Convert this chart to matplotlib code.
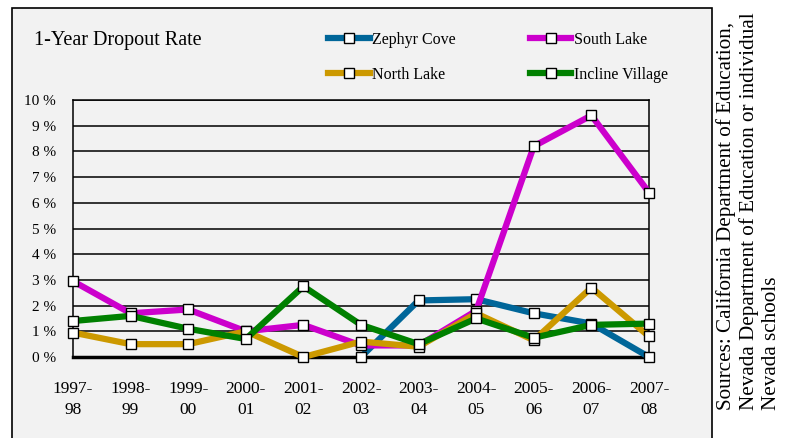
import matplotlib.pyplot as plt
from matplotlib.patches import Rectangle
import numpy as np

# Data
years = ["1997-\n98", "1998-\n99", "1999-\n00", "2000-\n01", "2001-\n02", "2002-\n03",
         "2003-\n04", "2004-\n05", "2005-\n06", "2006-\n07", "2007-\n08"]
zephyr_cove = [np.nan, np.nan, np.nan, np.nan, np.nan, 0.0, 2.2, 2.25, 1.7, 1.3, 0.0]
south_lake = [2.95, 1.7, 1.85, 1.0, 1.25, 0.45, 0.45, 1.8, 8.2, 9.4, 6.4]
north_lake = [0.95, 0.5, 0.5, 1.0, 0.0, 0.6, 0.4, 1.7, 0.65, 2.7, 0.8]
incline_village = [1.4, 1.6, 1.1, 0.7, 2.75, 1.25, 0.5, 1.5, 0.75, 1.25, 1.3]

plt.rcParams['font.family'] = ['Liberation Serif', 'DejaVu Serif']

fig = plt.figure(figsize=(7.93, 4.38), dpi=100)
fig.patch.set_facecolor('white')

# chart frame
frame = Rectangle((11.5 / 793, -0.1), (712 - 11.5) / 793, 1.1 - 8 / 438,
                  transform=fig.transFigure, facecolor='#f2f2f2', edgecolor='black',
                  linewidth=1.2, zorder=-10)
fig.patches.append(frame)

ax = fig.add_axes([73 / 793, 1 - 357 / 438, (649 - 73) / 793, (357 - 100) / 438])
ax.set_facecolor('#f2f2f2')

x = np.arange(len(years))
series = [
    ("Zephyr Cove", zephyr_cove, '#006699'),
    ("South Lake", south_lake, '#cc00cc'),
    ("North Lake", north_lake, '#cc9900'),
    ("Incline Village", incline_village, '#008000'),
]
handles = {}
for i, (name, vals, col) in enumerate(series):
    h, = ax.plot(x, vals, color=col, linewidth=4.5, marker='s', markersize=7.5,
                 markerfacecolor='white', markeredgecolor='black', markeredgewidth=1.0,
                 clip_on=False, zorder=3 + i, label=name, solid_joinstyle='round')
    handles[name] = h

ax.set_xlim(0, 10)
ax.set_ylim(0, 10)
ax.set_yticks(range(0, 11))
ax.set_yticklabels([f"{v} %" for v in range(0, 11)], fontsize=11)
ax.set_xticks(x)
ax.set_xticklabels(years, fontsize=12.5, linespacing=1.45)
ax.tick_params(length=0)
ax.tick_params(axis='y', pad=12.5)
ax.tick_params(axis='x', pad=17)
ax.grid(axis='y', color='black', linewidth=1.1)
ax.set_axisbelow(True)
for s in ['top', 'right', 'left']:
    ax.spines[s].set_linewidth(1.1)
ax.spines['bottom'].set_linewidth(2.5)
ax.spines['bottom'].set_zorder(2.5)

fig.text(34 / 793, 1 - 40 / 438, "1-Year Dropout Rate", fontsize=14.5, va='center', ha='left')

order = ["Zephyr Cove", "North Lake", "South Lake", "Incline Village"]
fig.legend([handles[n] for n in order], order, loc='center left',
           bbox_to_anchor=(320 / 793, 1 - 57.5 / 438), ncol=2, frameon=False,
           fontsize=11.5, handlelength=2.6, handletextpad=0.15, columnspacing=4.65,
           labelspacing=1.2, borderpad=0)

fig.text(716 / 793, 1 - 410 / 438,
         "Sources: California Department of Education,\nNevada Department of Education or individual\nNevada schools",
         rotation=90, fontsize=15.2, ha='left', va='bottom', multialignment='left',
         linespacing=1.2)

fig.savefig("out.png", dpi=100)
